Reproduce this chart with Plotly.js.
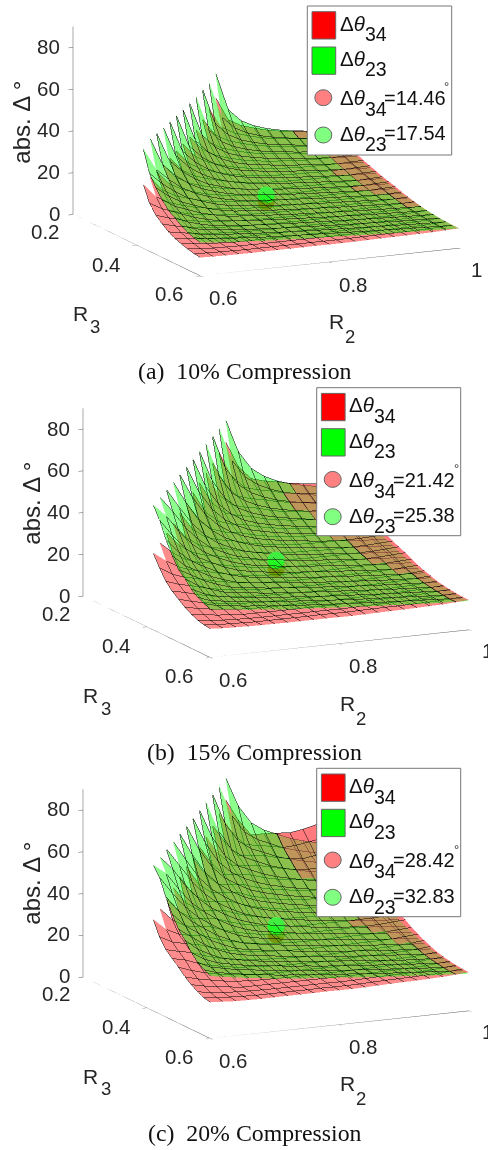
<!DOCTYPE html>
<html><head><meta charset="utf-8"><script src="https://cdn.plot.ly/plotly-3.0.1.min.js"></script>
<style>html,body{margin:0;padding:0;background:#fff}#g{width:488px;height:1150px}</style></head><body><div id="g"></div>
<script>
const _=null;
const R2=[.6,.62,.64,.66,.68,.7,.72,.74,.76,.78,.8,.82,.84,.86,.88,.9,.92,.94,.96,.98,1];
const R3=[.2,.22,.24,.26,.28,.3,.32,.34,.36,.38,.4,.42,.44,.46,.48,.5,.52,.54,.56,.58,.6];
const green_a=[
[_,_,_,_,_,_,_,_,_,_,_,61,42.3,36.3,33.2,31.2,29.8,28.8,28,27.4,26.8],
[_,_,_,_,_,_,_,_,_,_,58.7,41,35,31.9,29.9,28.5,27.5,26.7,26,25.5,25],
[_,_,_,_,_,_,_,_,_,57.6,39.9,33.9,30.7,28.8,27.4,26.4,25.6,24.9,24.3,23.8,23.4],
[_,_,_,_,_,_,_,_,56.4,39.2,32.7,29.6,27.6,26.2,25.2,24.4,23.7,23.1,22.6,22.2,21.8],
[_,_,_,_,_,_,_,55.4,38.7,32.3,28.6,26.6,25.2,24.2,23.4,22.7,22.1,21.6,21.1,20.8,20.4],
[_,_,_,_,_,_,54.4,38.2,31.9,28.1,25.6,24.2,23.2,22.4,21.7,21.1,20.6,20.1,19.7,19.4,19],
[_,_,_,_,_,53.5,37.9,31.7,27.7,25.2,23.4,22.4,21.6,20.9,20.3,19.8,19.3,18.9,18.5,18.1,17.9],
[_,_,_,_,52.8,37.5,31.4,27.4,24.6,22.8,21.5,20.7,20,19.4,18.9,18.4,18,17.6,17.2,17,16.7],
[_,_,_,52.1,37.4,31.3,27.2,24.3,22.4,21,20,19.3,18.7,18.2,17.7,17.3,16.9,16.5,16.2,15.9,15.7],
[_,_,51.5,37.2,31.3,27,23.9,22,20.4,19.4,18.6,18,17.5,17,16.6,16.2,15.8,15.5,15.2,14.9,14.7],
[_,51,37.3,31.4,27,23.8,21.8,20.1,19,18.1,17.54,17,16.5,16,15.7,15.3,15,14.6,14.3,14.1,13.8],
[48,37.3,31.6,27,23.8,21.6,19.8,18.5,17.6,17,16.5,16,15.6,15.2,14.8,14.5,14.1,13.8,13.5,13.3,13],
[37.4,31.7,27.2,23.6,21.5,19.5,18.1,17.1,16.5,16,15.5,15.1,14.7,14.3,14,13.7,13.4,13,12.8,12.5,12.3],
[32,27.3,23.8,21.5,19.4,17.9,16.8,16.2,15.7,15.2,14.8,14.4,14,13.7,13.3,13,12.7,12.4,12.1,11.9,11.7],
[27.6,23.8,21.6,19.3,17.8,16.5,15.9,15.4,14.9,14.5,14,13.7,13.4,13,12.7,12.4,12.1,11.8,11.6,11.3,11.1],
[24,21.7,19.4,17.7,16.4,15.7,15.2,14.7,14.3,13.9,13.5,13.2,12.8,12.5,12.2,11.9,11.6,11.4,11.1,10.9,10.7],
[22,19.3,17.6,16.2,15.6,15,14.5,14.1,13.7,13.3,13,12.7,12.4,12.1,11.8,11.5,11.2,10.9,10.7,10.5,10.3],
[19.6,17.6,16.3,15.6,15,14.5,14.1,13.7,13.3,13,12.6,12.3,12,11.7,11.4,11.2,10.9,10.6,10.4,10.2,9.95],
[17.9,16.3,15.7,15,14.6,14.1,13.7,13.3,13,12.6,12.3,12,11.7,11.4,11.2,10.9,10.6,10.4,10.1,9.9,9.7],
[16.8,15.7,15.2,14.6,14.2,13.7,13.3,13,12.7,12.4,12.1,11.8,11.5,11.2,10.9,10.7,10.4,10.2,9.9,9.7,9.5],
[16,15.4,14.9,14.4,14,13.5,13.2,12.9,12.6,12.3,12,11.7,11.4,11.1,10.9,10.6,10.4,10.1,9.9,9.7,9.5]];
const red_a=[
[_,_,_,_,_,_,_,_,_,_,_,49,37.4,34,32.1,30.45,29.3,28.5,27.9,27.55,27.4],
[_,_,_,_,_,_,_,_,_,_,46,36,32.5,30.6,29,27.85,27,26.4,25.9,25.55,25.8],
[_,_,_,_,_,_,_,_,_,43,34.5,31.05,29.1,27.5,26.4,25.55,24.9,24.4,23.9,24.15,24.2],
[_,_,_,_,_,_,_,_,40.2,33.2,29.7,27.75,26.1,25,24.1,23.55,23,22.7,22.6,22.65,22.8],
[_,_,_,_,_,_,_,38.8,31.85,28.4,26.4,24.75,23.6,22.8,22.2,21.65,21.3,21.2,21.1,21.25,21.4],
[_,_,_,_,_,_,37.45,30.5,27.05,25.1,23.4,22.25,21.4,20.8,20.3,19.95,19.8,19.7,19.7,19.85,20.05],
[_,_,_,_,_,36.3,29.35,25.9,23.95,22.3,21.1,20.25,19.6,19.1,18.8,18.65,18.5,18.5,18.5,18.7,18.9],
[_,_,_,_,35.1,28.2,24.75,22.8,21.15,20,19.1,18.45,17.9,17.6,17.5,17.35,17.3,17.3,17.35,17.55,17.75],
[_,_,_,33.95,27,23.6,21.65,20,18.85,18,17.3,16.75,16.4,16.3,16.2,16,16,16.05,16.1,16.35,16.6],
[_,_,33,26,22.6,20.7,19,17.9,17,16.4,15.8,15.45,15.3,15.2,15.2,15.15,15.15,15.2,15.2,15.45,15.7],
[_,32.1,25.15,21.7,19.75,18.15,17,16.15,15.5,14.95,14.46,14.4,14.25,14.25,14.2,14.2,14.25,14.3,14.35,14.6,14.8],
[31,24.05,20.6,18.65,17,15.9,15.05,14.4,13.85,13.5,13.3,13.15,13.1,13.05,13.15,13.15,13.2,13.2,13.3,13.5,13.7],
[23.1,19.65,17.7,16.05,14.9,14.1,13.45,12.9,12.55,12.4,12.2,12.15,12.1,12.15,12.1,12.15,12.2,12.2,12.3,12.55,12.8],
[18.8,16.85,15.2,14.05,13.2,12.6,12.05,11.7,11.55,11.4,11.2,11.2,11.1,11.2,11.2,11.25,11.3,11.4,11.5,11.75,12],
[16.1,14.45,13.3,12.45,11.8,11.3,11,10.8,10.65,10.5,10.5,10.4,10.4,10.5,10.6,10.6,10.6,10.7,10.8,11.05,11.3],
[13.75,12.6,11.75,11.1,10.55,10.25,9.9,9.85,9.8,9.8,9.8,9.75,9.75,9.85,9.85,9.9,9.95,10.05,10.15,10.4,10.65],
[12.15,11.3,10.65,10.1,9.75,9.45,9.4,9.35,9.3,9.35,9.35,9.3,9.35,9.35,9.45,9.5,9.55,9.65,9.75,10,10.25],
[10.95,10.3,9.75,9.4,9.05,9.05,9,9,9,9.05,9,9,9,9.05,9.15,9.2,9.25,9.35,9.45,9.7,9.95],
[10,9.45,9.1,8.95,8.8,8.75,8.7,8.7,8.7,8.7,8.7,8.65,8.7,8.8,8.9,8.95,9,9.1,9.2,9.45,9.7],
[9.25,8.9,8.75,8.6,8.5,8.5,8.5,8.5,8.5,8.55,8.5,8.5,8.55,8.65,8.75,8.8,8.85,8.95,9.05,9.3,9.55],
[8.8,8.65,8.5,8.45,8.4,8.45,8.45,8.45,8.45,8.5,8.45,8.45,8.5,8.6,8.7,8.75,8.8,8.9,9,9.25,9.5]];
const green_b=[
[_,_,_,_,_,_,_,_,_,_,_,77.6,61.3,52.6,48.1,45.2,43.2,41.8,40.6,39.7,38.9],
[_,_,_,_,_,_,_,_,_,_,76,59.5,50.8,46.3,43.4,41.3,39.9,38.7,37.7,37,36.3],
[_,_,_,_,_,_,_,_,_,74.4,57.9,49.2,44.5,41.8,39.7,38.3,37.1,36.1,35.2,34.5,33.9],
[_,_,_,_,_,_,_,_,72.8,56.8,47.4,42.9,40,38,36.5,35.4,34.4,33.5,32.8,32.2,31.6],
[_,_,_,_,_,_,_,71.2,56.1,46.8,41.5,38.6,36.5,35.1,33.9,32.9,32,31.3,30.6,30.2,29.6],
[_,_,_,_,_,_,69.6,55.4,46.3,40.7,37.1,35.1,33.6,32.5,31.5,30.6,29.9,29.1,28.6,28.1,27.6],
[_,_,_,_,_,68,55,46,40.2,36.5,33.9,32.5,31.3,30.3,29.4,28.7,28,27.4,26.8,26.2,26],
[_,_,_,_,66.4,54.4,45.5,39.7,35.7,33.1,31.2,30,29,28.1,27.4,26.7,26.1,25.5,24.9,24.7,24.2],
[_,_,_,64.8,54.2,45.4,39.4,35.2,32.5,30.5,29,28,27.1,26.4,25.7,25.1,24.5,23.9,23.5,23.1,22.8],
[_,_,63.2,53.9,45.4,39.2,34.7,31.9,29.6,28.1,27,26.1,25.4,24.7,24.1,23.5,22.9,22.5,22,21.6,21.3],
[_,61.6,54.1,45.5,39.2,34.5,31.6,29.1,27.6,26.2,25.38,24.7,23.9,23.2,22.8,22.2,21.8,21.2,20.7,20.4,20],
[60,54.1,45.8,39.2,34.5,31.3,28.7,26.8,25.5,24.7,23.9,23.2,22.6,22,21.5,21,20.4,20,19.6,19.3,18.9],
[54.2,46,39.4,34.2,31.2,28.3,26.2,24.8,23.9,23.2,22.5,21.9,21.3,20.7,20.3,19.9,19.4,18.9,18.6,18.1,17.8],
[46.4,39.6,34.5,31.2,28.1,26,24.4,23.5,22.8,22,21.5,20.9,20.3,19.9,19.3,18.9,18.4,18,17.5,17.3,17],
[40,34.5,31.3,28,25.8,23.9,23.1,22.3,21.6,21,20.3,19.9,19.4,18.9,18.4,18,17.5,17.1,16.8,16.4,16.1],
[34.8,31.5,28.1,25.7,23.8,22.8,22,21.3,20.7,20.2,19.6,19.1,18.6,18.1,17.7,17.3,16.8,16.5,16.1,15.8,15.5],
[31.9,28,25.5,23.5,22.6,21.8,21,20.4,19.9,19.3,18.9,18.4,18,17.5,17.1,16.7,16.2,15.8,15.5,15.2,14.9],
[28.4,25.5,23.6,22.6,21.8,21,20.4,19.9,19.3,18.9,18.3,17.8,17.4,17,16.5,16.2,15.8,15.4,15.1,14.8,14.4],
[26,23.6,22.8,21.8,21.2,20.4,19.9,19.3,18.9,18.3,17.8,17.4,17,16.5,16.2,15.8,15.4,15.1,14.6,14.4,14.1],
[24.4,22.8,22,21.2,20.6,19.9,19.3,18.9,18.4,18,17.5,17.1,16.7,16.2,15.8,15.5,15.1,14.8,14.4,14.1,13.8],
[23.2,22.3,21.6,20.9,20.3,19.6,19.1,18.7,18.3,17.8,17.4,17,16.5,16.1,15.8,15.4,15.1,14.6,14.4,14.1,13.8]];
const red_b=[
[_,_,_,_,_,_,_,_,_,_,_,67,54.2,47.6,45.9,44.8,43.4,42.6,41.9,41.3,41.1],
[_,_,_,_,_,_,_,_,_,_,64.5,51.8,45.5,43.8,42.6,40.9,40,39.4,38.9,38.3,38.7],
[_,_,_,_,_,_,_,_,_,61.5,49.3,43.5,41.6,40.6,38.9,37.9,37.3,36.6,35.9,36.2,36.3],
[_,_,_,_,_,_,_,_,59,47.1,41.6,39.7,38.6,36.9,35.6,35,34.5,34,33.9,34,34.2],
[_,_,_,_,_,_,_,56,45.2,39.8,37.8,36.8,35,33.8,33,32.4,32,31.8,31.7,31.9,32.1],
[_,_,_,_,_,_,53.5,43,37.9,35.9,35,33.4,32.1,31.2,30.5,29.9,29.7,29.6,29.6,29.8,30.1],
[_,_,_,_,_,50.5,41.1,36.3,34.2,33.5,31.7,30.4,29.4,28.7,28.2,28,27.8,27.8,27.8,28.1,28.4],
[_,_,_,_,48,39.2,34.7,32.6,31.7,30,28.7,27.7,26.9,26.4,26.2,26,26,26,26,26.3,26.6],
[_,_,_,45,37.3,33,31,30,28.3,27,26,25.1,24.6,24.5,24.3,24,24,24.1,24.2,24.5,24.9],
[_,_,42.5,35.6,31.6,29.6,28.5,26.9,25.5,24.6,23.7,23.2,23,22.8,22.8,22.7,22.7,22.8,22.8,23.2,23.6],
[_,39.7,34.2,30.4,28.2,27.2,25.5,24.2,23.3,22.4,21.42,21.5,21.3,21.3,21.3,21.3,21.4,21.4,21.5,21.9,22.2],
[37,32.5,28.8,26.7,25.5,23.9,22.6,21.6,20.8,20.3,20,19.7,19.7,19.6,19.7,19.7,19.8,19.8,20,20.3,20.6],
[31.2,27.5,25.3,24.1,22.4,21.2,20.2,19.4,18.8,18.6,18.3,18.2,18.2,18.2,18.2,18.2,18.3,18.3,18.5,18.8,19.2],
[26.3,24.1,22.8,21.1,19.8,18.9,18.1,17.6,17.3,17.1,16.8,16.8,16.7,16.8,16.8,16.9,17,17.1,17.3,17.6,18],
[23,21.7,20,18.7,17.7,17,16.5,16.2,16,15.8,15.8,15.6,15.6,15.8,15.9,15.9,15.9,16.1,16.2,16.6,17],
[20.6,18.9,17.6,16.7,15.8,15.4,14.9,14.8,14.7,14.7,14.7,14.6,14.6,14.8,14.8,14.9,14.9,15.1,15.2,15.6,16],
[18.2,17,16,15.2,14.6,14.2,14.1,14,14,14,14,14,14,14,14.2,14.3,14.3,14.5,14.6,15,15.4],
[16.4,15.5,14.6,14.1,13.6,13.6,13.5,13.5,13.5,13.6,13.5,13.5,13.5,13.6,13.7,13.8,13.9,14,14.2,14.6,14.9],
[15,14.2,13.7,13.4,13.2,13.1,13.1,13.1,13.1,13.1,13.1,13,13.1,13.2,13.4,13.4,13.5,13.7,13.8,14.2,14.6],
[14.2,13.6,13.4,13.2,13,13,13,13,13,13.1,13,13,13.1,13.2,13.3,13.3,13.4,13.5,13.6,13.9,14.3],
[13.8,13.4,13.2,13,12.9,12.9,12.8,12.8,12.8,12.8,12.7,12.7,12.8,12.9,13,13.1,13.2,13.4,13.5,13.9,14.3]];
const green_c=[
[_,_,_,_,_,_,_,_,_,_,_,88.6,74,65.3,61.1,58.5,55.9,54,52.5,51.4,50.3],
[_,_,_,_,_,_,_,_,_,_,86.9,71.8,63,58.7,56.1,53.4,51.6,50.1,48.8,47.8,46.9],
[_,_,_,_,_,_,_,_,_,85.2,69.8,61,56.5,54,51.4,49.5,48,46.7,45.6,44.6,43.9],
[_,_,_,_,_,_,_,_,83.5,68.6,58.9,54.5,51.8,49.1,47.3,45.8,44.4,43.3,42.4,41.6,40.9],
[_,_,_,_,_,_,_,81.8,67.7,58.1,52.6,49.9,47.3,45.4,43.9,42.6,41.4,40.5,39.6,39,38.3],
[_,_,_,_,_,_,80.1,66.9,57.4,51.7,48,45.4,43.5,42,40.7,39.6,38.6,37.7,36.9,36.4,35.6],
[_,_,_,_,_,78.4,66.3,57.1,51,47.3,43.9,42,40.5,39.2,38.1,37.1,36.2,35.4,34.7,33.9,33.6],
[_,_,_,_,76.8,65.6,56.5,50.4,46.1,42.8,40.3,38.8,37.5,36.4,35.4,34.5,33.8,33,32.3,31.9,31.3],
[_,_,_,75.1,65.5,56.3,50,45.6,42,39.4,37.5,36.2,35.1,34.1,33.2,32.4,31.7,30.9,30.4,29.8,29.4],
[_,_,73.4,65.1,56.3,49.7,44.8,41.3,38.3,36.4,34.9,33.8,32.8,31.9,31.1,30.4,29.6,29.1,28.5,27.9,27.6],
[_,71.7,65.3,56.5,49.7,44.6,40.9,37.7,35.6,33.9,32.83,31.9,30.9,30,29.4,28.7,28.1,27.4,26.8,26.4,25.9],
[70,65.3,56.9,49.7,44.6,40.5,37.1,34.7,33,31.9,30.9,30,29.3,28.5,27.8,27.2,26.4,25.9,25.3,24.9,24.4],
[65.5,57.1,50,44.3,40.3,36.6,33.9,32.1,30.9,30,29.1,28.3,27.6,26.8,26.3,25.7,25.1,24.4,24,23.4,23.1],
[57.6,50.2,44.6,40.3,36.4,33.6,31.5,30.4,29.4,28.5,27.8,27,26.3,25.7,24.9,24.4,23.8,23.3,22.7,22.3,21.9],
[50.8,44.6,40.5,36.2,33.4,30.9,29.8,28.9,27.9,27.2,26.3,25.7,25.1,24.4,23.8,23.3,22.7,22.1,21.8,21.2,20.8],
[45,40.7,36.4,33.2,30.8,29.4,28.5,27.6,26.8,26.1,25.3,24.8,24,23.4,22.9,22.3,21.8,21.4,20.8,20.4,20.1],
[41.3,36.2,33,30.4,29.3,28.1,27.2,26.4,25.7,24.9,24.4,23.8,23.3,22.7,22.1,21.6,21,20.4,20.1,19.7,19.3],
[36.8,33,30.6,29.3,28.1,27.2,26.4,25.7,24.9,24.4,23.6,23.1,22.5,21.9,21.4,21,20.4,19.9,19.5,19.1,18.7],
[33.6,30.6,29.4,28.1,27.4,26.4,25.7,24.9,24.4,23.6,23.1,22.5,21.9,21.4,21,20.4,19.9,19.5,18.9,18.6,18.2],
[31.5,29.4,28.5,27.4,26.6,25.7,24.9,24.4,23.8,23.3,22.7,22.1,21.6,21,20.4,20.1,19.5,19.1,18.6,18.2,17.8],
[30,28.9,27.9,27,26.3,25.3,24.8,24.2,23.6,23.1,22.5,21.9,21.4,20.8,20.4,19.9,19.5,18.9,18.6,18.2,17.8]];
const red_c=[
[_,_,_,_,_,_,_,_,_,_,_,78,67.3,59.5,59.4,59,58.5,59.5,61,62.5,64],
[_,_,_,_,_,_,_,_,_,_,74,64.1,56.9,56,54.8,53.6,54,55,56,57,58],
[_,_,_,_,_,_,_,_,_,70,60.7,53.7,53.3,52.6,50.9,49.8,49,50,51,52,53],
[_,_,_,_,_,_,_,_,67,57.8,51.4,50.8,50,48.5,47,46,45.5,45.6,46,47,48],
[_,_,_,_,_,_,_,64,54.8,48.8,48.3,47.5,45.6,44.2,43.3,42.6,42.2,41.8,41.9,42.5,43],
[_,_,_,_,_,_,61,51.9,46.5,45.9,45,43,41.6,40.6,39.6,38.9,38.6,38.4,38.4,38.7,39.1],
[_,_,_,_,_,59,49.3,44.5,43.8,43.5,41.1,39.5,38.2,37.2,36.7,36.4,36.1,36.1,36.1,36.5,36.9],
[_,_,_,_,56,47.1,42.6,41.7,41.2,39,37.2,36,34.9,34.3,34.1,33.8,33.7,33.7,33.8,34.2,34.6],
[_,_,_,53,44.8,40.6,39.6,39,36.8,35.1,33.7,32.7,32,31.8,31.6,31.2,31.2,31.3,31.4,31.9,32.4],
[_,_,50,42.6,38.9,37.9,37.1,34.9,33.2,32,30.8,30.1,29.8,29.6,29.6,29.5,29.5,29.6,29.6,30.1,30.6],
[_,47,40.7,37.3,36.1,35.4,33.2,31.5,30.2,29.2,28.42,28.1,27.8,27.8,27.7,27.7,27.8,27.9,28,28.5,28.9],
[44,38.5,35.4,34.1,33.2,31,29.3,28.1,27,26.3,25.9,25.6,25.5,25.4,25.6,25.6,25.7,25.7,25.9,26.3,26.7],
[37,33.8,32.4,31.3,29.1,27.5,26.2,25.2,24.5,24.2,23.8,23.7,23.6,23.7,23.6,23.7,23.8,23.8,24,24.5,25],
[32.3,30.8,29.6,27.4,25.7,24.6,23.5,22.8,22.5,22.2,21.8,21.8,21.6,21.8,21.8,21.9,22,22.2,22.4,22.9,23.4],
[29.5,28.2,25.9,24.3,23,22,21.5,21.1,20.8,20.5,20.5,20.3,20.3,20.5,20.7,20.7,20.7,20.9,21.1,21.5,22],
[26.8,24.6,22.9,21.6,20.6,20,19.3,19.2,19.1,19.1,19.1,19,19,19.2,19.2,19.3,19.4,19.6,19.8,20.3,20.8],
[23.7,22,20.8,19.7,19,18.4,18.3,18.2,18.1,18.2,18.2,18.1,18.2,18.2,18.4,18.5,18.6,18.8,19,19.5,20],
[21.4,20.1,19,18.3,17.6,17.6,17.6,17.6,17.6,17.6,17.6,17.6,17.6,17.6,17.8,17.9,18,18.2,18.4,18.9,19.4],
[19.5,18.4,17.7,17.5,17.2,17.1,17,17,17,17,17,16.9,17,17.2,17.4,17.5,17.6,17.7,17.9,18.4,18.9],
[18,17.4,17.1,16.8,16.6,16.6,16.6,16.6,16.6,16.7,16.6,16.6,16.7,16.9,17.1,17.2,17.3,17.5,17.6,18.1,18.6],
[17.4,17,16.6,16.5,16.4,16.5,16.5,16.5,16.5,16.6,16.5,16.5,16.6,16.8,17,17.1,17.2,17.4,17.6,18,18.5]];
const point_R2=[.8,.8],point_R3=[.4,.4];
const points_a=[14.46,17.54],points_b=[21.42,25.38],points_c=[28.42,32.83];
const ticks_R2=[.6,.8,1],ticks_R3=[.2,.4,.6],ticks_z=[0,20,40,60,80];
const W=488,H=1150;
const panels=[
 {R:red_a,G:green_a,P:points_a,cx:265.7,cy:145,dz:-.054,ox:71.7,oy:215,cap:'(a)  10% Compression',capx:245,capy:370.7,box:[307.3,6,451.7,155],zt:[20.7,122]},
 {R:red_b,G:green_b,P:points_b,cx:276.3,cy:519,dz:0,ox:82.3,oy:596.7,cap:'(b)  15% Compression',capx:254.7,capy:751.7,box:[316.7,387.7,460.7,535.7],zt:[30.7,503]},
 {R:red_c,G:green_c,P:points_c,cx:276.3,cy:899.5,dz:0,ox:82.3,oy:977,cap:'(c)  20% Compression',capx:254.7,capy:1132.7,box:[316.7,768.3,460.7,916.7],zt:[30.7,883]}];
const X=x=>x/W,Y=y=>1-y/H;
const traces=[],layout={width:W,height:H,margin:{l:0,r:0,t:0,b:0},paper_bgcolor:'#fff',showlegend:false,annotations:[],shapes:[]};
const F={family:'Liberation Sans, Arial, sans-serif',size:20.5,color:'#262626'};
const Fs=s=>Object.assign({},F,{size:s});
panels.forEach((p,i)=>{
 const sc=i?'scene'+(i+1):'scene';
 const surf=(z,col,op)=>({type:'surface',scene:sc,x:R2,y:R3,z:z,showscale:false,opacity:op,colorscale:[[0,col],[1,col]],hoverinfo:'skip',
  lighting:{ambient:1,diffuse:0,specular:0,roughness:1,fresnel:0},
  contours:{x:{show:true,start:.6,end:1,size:.02,color:'#000',width:2},y:{show:true,start:.2,end:.6,size:.02,color:'#000',width:2},z:{show:false}}});
 const over=p.R.map((row,r)=>row.map((v,c)=>v!==null&&v>=p.G[r][c]-.4?v:null));
 traces.push(surf(p.R,'#ff0000',.45),surf(p.G,'#00ff00',.45),surf(over,'#ff626a',.45));
 traces.push({type:'scatter3d',scene:sc,mode:'markers',x:point_R2,y:point_R3,z:p.P,marker:{size:10,color:['#b08030','#40ee40']},hoverinfo:'skip'});
 const lineT=(x,y)=>({type:'scatter3d',scene:sc,mode:'lines',x,y,z:[0,0],line:{color:'#555',width:1},hoverinfo:'skip'});
 traces.push(lineT([ticks_R2[0],ticks_R2[2]],[ticks_R3[2],ticks_R3[2]]),lineT([ticks_R2[0],ticks_R2[0]],[ticks_R3[0],ticks_R3[2]]));
 const ax=(vals,rng,ln)=>({range:rng,tickvals:vals,showticklabels:false,showgrid:false,zeroline:false,showbackground:false,showspikes:false,showline:ln,linecolor:'#555',linewidth:1,ticks:'inside',ticklen:5,tickcolor:'#555',title:{text:''}});
 const an=[];
 [[.6,'0.6',23,22],[.8,'0.8',24,22],[1,'1',18,21]].forEach(t=>an.push({x:t[0],y:.6,z:0,text:t[1],xshift:t[2],yshift:-t[3],showarrow:false,font:F}));
 [[.2,'0.2',-27,17],[.4,'0.4',-30,19],[.6,'0.6',-31,18]].forEach(t=>an.push({x:.6,y:t[0],z:0,text:t[1],xshift:t[2],yshift:-t[3],showarrow:false,font:F}));
 ticks_z.forEach(t=>an.push({x:.6,y:.2,z:t,text:String(t),xanchor:'right',xshift:-11,yshift:1,showarrow:false,font:F}));
 layout[sc]={domain:{x:[(p.cx-211)/W,(p.cx+211)/W],y:[1-(p.cy+145)/H,1-(p.cy-145)/H]},
  xaxis:ax(ticks_R2,[.6,1],false),yaxis:ax(ticks_R3,[.6,.2],false),zaxis:ax(ticks_z,[0,90],true),
  aspectmode:'manual',aspectratio:{x:1.972,y:2.058,z:1.331},annotations:an,
  camera:{projection:{type:'orthographic'},center:{x:0,y:0,z:p.dz},up:{x:0,y:0,z:1},eye:{x:-2.5,y:-5.3,z:1.37+p.dz}}};
 const A=layout.annotations,Sh=layout.shapes,[bx0,by0,bx1,by1]=p.box;
 const TX=(x,y,text,o)=>A.push(Object.assign({xref:'paper',yref:'paper',x:X(x),y:Y(y),xanchor:'center',yanchor:'middle',text,showarrow:false,font:F},o||{}));
 TX(p.ox+8.3,p.oy+99,'R',{font:Fs(21)});TX(p.ox+23.3,p.oy+111.7,'3',{font:Fs(18.5)});
 TX(p.ox+265,p.oy+106.7,'R',{font:Fs(21)});TX(p.ox+278.3,p.oy+121.7,'2',{font:Fs(18.5)});
 TX(p.zt[0],p.zt[1],'abs. Δ °',{textangle:-90,font:Fs(24)});
 TX(p.capx,p.capy,p.cap,{font:{family:'Liberation Serif, Times New Roman, serif',size:23.8,color:'#111'}});
 Sh.push({type:'rect',xref:'paper',yref:'paper',layer:'above',x0:X(bx0),x1:X(bx1),y0:Y(by0),y1:Y(by1),fillcolor:'#fff',line:{color:'#777',width:1}});
 const sw=(yy,c)=>Sh.push({type:'rect',xref:'paper',yref:'paper',layer:'above',x0:X(bx0+4.7),x1:X(bx0+28.4),y0:Y(by0+yy),y1:Y(by0+yy+27.3),fillcolor:c,line:{color:'#666',width:1}});
 sw(5.7,'#ff0000');sw(41,'#00ff00');
 const ci=(yy,c)=>Sh.push({type:'circle',xref:'paper',yref:'paper',layer:'above',x0:X(bx0+7.5),x1:X(bx0+24.5),y0:Y(by0+yy-8),y1:Y(by0+yy+8),fillcolor:c,line:{color:'#666',width:1}});
 ci(91.7,'#ff8080');ci(129,'#80ff80');
 const TH='Δ<i>θ</i>',Ft={family:'Liberation Sans, Arial, sans-serif',size:20.5,color:'#111'};
 const lt=(yy,sub,val)=>{
  TX(bx0+30.7,by0+yy,TH,{xanchor:'left',font:Ft});
  TX(bx0+55.7,by0+yy+11,sub,{xanchor:'left',font:Object.assign({},Ft,{size:19.5})});
  if(val)TX(bx0+74.4,by0+yy,'='+val,{xanchor:'left',font:Object.assign({},Ft,{size:20})});
 };
 lt(17.3,'34');lt(52.3,'23');lt(92,'34',p.P[0].toFixed(2));lt(127.3,'23',p.P[1].toFixed(2));
 TX(bx0+139.4,by0+81,'°',{font:{family:'Liberation Sans',size:13,color:'#333'}});
});
Plotly.newPlot('g',traces,layout,{displayModeBar:false});
</script></body></html>
